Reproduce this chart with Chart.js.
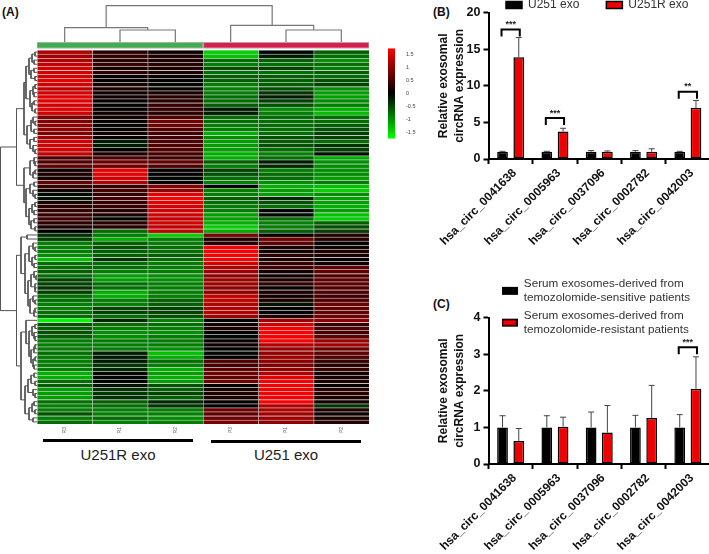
<!DOCTYPE html>
<html>
<head>
<meta charset="utf-8">
<title>circRNA expression</title>
<style>
  html, body { margin: 0; background: #fff; }
  #page { position: relative; width: 709px; height: 554px; overflow: hidden; font-family: "Liberation Sans", Arial, sans-serif; }
  canvas { position: absolute; display: block; }
  .tag { position: absolute; font-weight: bold; font-size: 12px; color: #111; }
  .grp { position: absolute; font-size: 15px; color: #222; text-align: center; width: 160px; }
  .rule { position: absolute; height: 3px; width: 150px; background: #000; }
</style>
<script src="https://cdn.jsdelivr.net/npm/chart.js@4.4.1/dist/chart.umd.min.js"></script>
</head>
<body>
<div id="page">
  <div class="tag" style="left:2px;top:5px">(A)</div>
  <div class="tag" style="left:433px;top:5px">(B)</div>
  <div class="tag" style="left:433px;top:297px">(C)</div>
  <div class="rule" style="left:43px;top:439px"></div>
  <div class="rule" style="left:211px;top:440px"></div>
  <div class="grp" style="left:38px;top:446px">U251R exo</div>
  <div class="grp" style="left:206px;top:446px">U251 exo</div>
  <canvas id="dendroTop" width="332" height="49" style="left:37px;top:0"></canvas>
  <canvas id="dendroLeft" width="37" height="374" style="left:0;top:50px"></canvas>
  <canvas id="heat" width="332" height="392" style="left:37px;top:50px"></canvas>
  <canvas id="scale" width="32" height="103" style="left:388px;top:42px"></canvas>
  <canvas id="chartB" width="280" height="288" style="left:430px;top:-39px"></canvas>
  <canvas id="chartC" width="280" height="284" style="left:430px;top:270px"></canvas>
</div>
<script>
// heatmap values, one list per sample, rows top to bottom
const sampleNames = ["R3", "R1", "R2", "P3", "P1", "P2"];
const expR3 = [1.3,1.2,1.3,1.4,1.5,1.5,1.5,1.6,1.5,1.4,1.5,1.6,1.6,1.5,1.6,1.5,1.0,1.0,1.1,1.1,1.0,1.2,1.5,1.5,1.5,1.4,.7,.7,.8,.2,.3,.25,.8,.5,.2,-.1,-.2,.3,.4,.5,.5,.6,.4,.3,0,-.5,-.6,-1.0,-1,-1,-1.1,-1.4,-.9,-.9,-.8,-.9,-.6,-.6,-.5,-.6,-.9,-.9,-1,-1,-.9,-.9,-1.7,-.7,-.8,-.7,-.8,-1,-1,-1,-.9,-1,-1,-1,-1,-1.3,-1.3,-.9,-.8,-1.2,-1.2,-1.2,-.9,-1,-1,-.7,-1,-.9];
const expR1 = [.4,.5,.4,.5,.3,.4,.1,0,.3,.3,.2,.2,0,.1,0,.2,.2,.1,-.1,.1,.2,.1,-.3,-.3,.1,.3,.7,.9,.9,1.6,1.6,1.5,1.3,.5,.6,.5,.6,.5,.5,.4,.3,-.1,.4,.4,-.9,-1.0,-1.3,-.8,-.7,-.8,-.8,-.5,-.9,-.9,-1,-1.2,-1.2,-.9,-.9,-1.3,-1.3,-1,-1,-.6,-.6,-.9,-.4,-.9,-1,-1.1,-1.1,-1,-1,-1,-.3,-.3,-.3,-.5,-.4,-.1,-.1,-.1,-.2,-.5,-.5,-.5,-.8,-.9,-1,-1,-.9,-1];
const expR2 = [.2,.3,.3,.4,.3,.3,.1,0,-.1,.1,.3,.4,.4,.5,.5,.4,.7,.9,.9,.7,.6,.6,.7,.7,.7,.6,.6,.8,.7,.1,0,-.1,0,1.0,1.1,1.6,1.7,1.6,1.5,1.5,1.5,1.4,1.5,1.4,1.4,-1.5,-1.0,-1,-.9,-.9,-.8,-.9,-1,-1,-1.0,-1.1,-1.1,-1,-1,-1,-1,-.8,-.8,-.6,-.6,-.7,-1,-.9,-1,-1.1,-1,-1,-1,-1.1,-1.4,-1.3,-.9,-1,-1.3,-1.2,-1.3,-1.2,-.7,-.8,-.6,-.8,-.4,-.5,-1,-1,-1.1,-1];
const expP3 = [-1.5,-1.4,-.9,-1,-.7,-.9,-.8,-.8,-1,-1,-1,-.9,-.9,-.8,-.3,-.3,-.9,-.9,-1,-1,-1.3,-1.1,-1.2,-1.2,-1.2,-1.3,-1.3,-.8,-1,-.6,-.7,-.9,-1,-.1,-1,-1,-.8,-.9,-1,-1,-1.2,-1.2,-1.3,-1.5,-1.3,1.0,.3,.4,1.7,1.7,1.7,1.7,1.5,1.3,1.2,1.1,1.2,1.2,1.1,1.1,1.4,1.4,1.3,1.3,1.3,1.2,-.05,.2,.3,0,-.1,.1,.15,0,-.1,0,.7,.6,.8,.9,.8,.9,0,.3,.3,.3,.05,.1,.9,.8,.9,1.0];
const expP1 = [-.1,-.3,-.8,-.9,-.6,-.9,-.8,-.8,-.8,-.7,-.5,-.3,-.6,-.7,-1.1,-1,-.9,-.9,-.9,-.9,-.9,-.7,-.8,-.7,-.9,-1,-.9,-.3,-.4,-1,-.9,-.9,-1.1,-1.3,-1.2,-1.2,-.4,-.7,-.9,-.1,-.1,-.9,-1,-1,-.8,.1,.9,.8,.3,.2,.4,.3,.5,.6,.2,.2,.3,.5,-.05,.3,.2,.3,-.2,-.05,0,.3,1.2,1.5,1.7,1.7,1.7,1.7,1.3,1.2,1.1,1.2,1.1,1,1.1,1.3,1.6,1.7,1.7,1.7,1.7,1.7,1.7,1.3,1.3,1.2,1.2,1.1];
const expP2 = [-.8,-.9,-1.1,-.9,-1,-.8,-.9,-.7,-.6,-1.1,-1.2,-1.2,-1.1,-1,-1.3,-1.4,-.9,-.9,-.8,-.7,-.6,-.6,-.9,-.5,-.6,-.2,-1.3,-1.1,-1.1,-1.1,-1.1,-1.2,-1,-1.4,-1.5,-1.1,-1.2,-1.2,-1.3,-1.2,-1.4,-1.5,-.8,-.7,-.6,.4,.4,-.05,.2,.3,.3,0,.2,.8,.8,.7,.8,.8,.7,.7,.6,.7,.9,.8,.8,.9,1.1,.5,.7,.6,.8,1.2,1.2,.9,.8,.7,.5,.4,.5,.2,.3,.3,.1,.4,.4,.3,.2,-.5,.3,.2,.3,.4];
const heatValues = [expR3, expR1, expR2, expP3, expP1, expP2];
const heatMax = 1.75;
const scaleTicks = [-1.5, -1, -0.5, 0, 0.5, 1, 1.5];

// dendrograms: [height, child, child], 0 is a leaf
const treeTop = [36.3, [14.3, 0, [12, 0, 0]], [16.7, 0, [12, 0, 0]]];
const treeLeft = [36.5,
  [20.5,
    [13,
      [11,
        [8, [5, [2, 0, 0], [3, 0, 0]], [6, [3, 0, 0], [2, 0, 0]]],
        [7, [4, [2, 0, 0], [3, 0, 0]], [5, [3, 0, 0], [2, 0, 0]]]],
      [10, [6, [4, 0, [2, 0, 0]], [3, 0, 0]], [7, [3, 0, 0], [4, 0, [2, 0, 0]]]]],
    [13,
      [7, [3, 0, [2, 0, 0]], [4, [2, 0, 0], 0]],
      [11,
        [7, [3, 0, 0], [4, 0, [2, 0, 0]]],
        [8, [5, [2, 0, 0], [3, 0, 0]], [6, [3, 0, 0], [2, 0, 0]]]]]],
  [20.5,
    [16,
      [10, 0, 0],
      [12,
        [8, [4, 0, [2, 0, 0]], [5, [2, 0, 0], [3, 0, 0]]],
        [9, [6, [3, 0, [1, 0, 0]], [2, 0, [2, 0, 0]]], [7, [4, 0, [2, 0, 0]], [3, [2, 0, 0], 0]]]]],
    [16,
      [11, 0, [8, [5, [2, 0, 0], [3, 0, [2, 0, 0]]], [6, [3, [2, 0, 0], 0], [4, [2, 0, 0], [3, 0, 0]]]]],
      [12, [9, [6, [3, 0, 0], [2, 0, 0]], [4, 0, [2, 0, 0]]], [8, [5, [3, 0, 0], [2, 0, 0]], [4, 0, 0]]]]]];

// bar panels
const circNames = ["hsa_circ_0041638", "hsa_circ_0005963", "hsa_circ_0037096", "hsa_circ_0002782", "hsa_circ_0042003"];
const sensB = [1, 1, 1, 1, 1];
const resB = [13.9, 3.75, 1, 1, 7];
const sensBHigh = [1.05, 1.05, 1.15, 1.15, 1.05];
const resBHigh = [16.6, 4.2, 1.1, 1.4, 8];
const sigBGroups = [0, 1, 4];
const sigBTop = [17.7, 5.6, 9.2];
const sigBText = ["***", "***", "**"];
const sensC = [1, 1, 1, 1, 1];
const resC = [0.63, 1.02, 0.86, 1.26, 2.06];
const sensCHigh = [1.32, 1.32, 1.42, 1.33, 1.35];
const resCHigh = [0.97, 1.28, 1.6, 2.15, 2.93];
const sigCGroups = [4];
const sigCTop = [3.19];
const sigCText = ["***"];

Chart.defaults.animation = false;
Chart.defaults.responsive = false;
Chart.defaults.font.family = '"Liberation Sans", Arial, sans-serif';
Chart.defaults.plugins.tooltip.enabled = false;

function heatColor(v) {
  const level = Math.round(255 * Math.pow(Math.min(Math.abs(v) / heatMax, 1), 1.25));
  return v > 0 ? `rgb(${level},0,0)` : `rgb(0,${level},0)`;
}

// walk a tree and return line segments with null breaks between the links
function treeSegments(tree, toPoint) {
  let next = 0;
  const out = [];
  function walk(node) {
    if (!node) return { pos: next++ + 0.5, h: 0 };
    const a = walk(node[1]);
    const b = walk(node[2]);
    out.push(toPoint(a.pos, a.h), toPoint(a.pos, node[0]), toPoint(b.pos, node[0]), toPoint(b.pos, b.h), { x: null, y: null });
    return { pos: (a.pos + b.pos) / 2, h: node[0] };
  }
  walk(tree);
  return out;
}

new Chart(document.getElementById("dendroTop"), {
  type: "scatter",
  data: {
    datasets: [
      { data: treeSegments(treeTop, (pos, h) => ({ x: pos, y: h })), showLine: true, borderColor: "#777", borderWidth: 1.2, pointRadius: 0 },
      { data: [{ x: 0.01, y: -3.3 }, { x: 2.99, y: -3.3 }], showLine: true, borderColor: "#3cb04c", borderWidth: 4.5, pointRadius: 0 },
      { data: [{ x: 3.02, y: -3.3 }, { x: 5.99, y: -3.3 }], showLine: true, borderColor: "#e0194f", borderWidth: 4.5, pointRadius: 0 },
      { data: [{ x: 0, y: -3.3 }, { x: 6, y: -3.3 }], showLine: true, borderColor: "#aaa", borderWidth: 6.5, pointRadius: 0 },
    ],
  },
  options: {
    layout: { padding: 0, autoPadding: false },
    plugins: { legend: { display: false } },
    scales: {
      x: { type: "linear", min: 0, max: 6, display: false },
      y: { min: -7, max: 42, display: false },
    },
  },
});

new Chart(document.getElementById("dendroLeft"), {
  type: "scatter",
  data: {
    datasets: [
      { data: treeSegments(treeLeft, (pos, h) => ({ x: h, y: pos })), showLine: true, borderColor: "#555", borderWidth: 1, pointRadius: 0 },
    ],
  },
  options: {
    layout: { padding: 0, autoPadding: false },
    plugins: { legend: { display: false } },
    scales: {
      x: { type: "linear", min: 0, max: 37, reverse: true, display: false },
      y: { min: 0, max: expR3.length, reverse: true, display: false },
    },
  },
});

new Chart(document.getElementById("heat"), {
  type: "bar",
  data: {
    labels: expR3.map((_, i) => i),
    datasets: heatValues.map((vals, c) => ({
      data: vals.map(() => [c, c + 1]),
      backgroundColor: vals.map(heatColor),
      borderColor: "rgba(170,170,170,0.45)",
      borderWidth: { top: 1, bottom: 0, left: 1, right: 0 },
      borderSkipped: false,
      inflateAmount: 0.45,
      barPercentage: 1,
      categoryPercentage: 1,
    })),
  },
  options: {
    indexAxis: "y",
    layout: { padding: 0, autoPadding: false },
    plugins: { legend: { display: false } },
    scales: {
      y: { stacked: true, display: false },
      x: {
        type: "linear",
        min: 0,
        max: 6,
        border: { display: false },
        grid: { display: false, drawTicks: false },
        afterBuildTicks: (s) => { s.ticks = sampleNames.map((_, i) => ({ value: i + 0.5 })); },
        afterFit: (s) => { s.height = 18; },
        ticks: {
          font: { size: 5 },
          color: "#666",
          padding: 3,
          minRotation: 90,
          maxRotation: 90,
          callback: (v) => sampleNames[Math.floor(v)],
        },
      },
    },
  },
});

// colour key, one floating bar with a green-black-red fill
new Chart(document.getElementById("scale"), {
  type: "bar",
  data: {
    labels: ["key"],
    datasets: [{
      data: [[-heatMax, heatMax]],
      barPercentage: 1,
      categoryPercentage: 1,
      inflateAmount: 0,
      backgroundColor: (ctx) => {
        const area = ctx.chart.chartArea;
        if (!area) return "#000";
        const g = ctx.chart.ctx.createLinearGradient(0, area.bottom, 0, area.top);
        g.addColorStop(0, heatColor(-heatMax));
        g.addColorStop(0.5, "#000");
        g.addColorStop(1, heatColor(heatMax));
        return g;
      },
    }],
  },
  options: {
    layout: { padding: 0, autoPadding: false },
    plugins: { legend: { display: false } },
    scales: {
      x: { display: false },
      y: {
        position: "right",
        min: -heatMax,
        max: heatMax,
        border: { display: false },
        grid: { display: false },
        afterBuildTicks: (s) => { s.ticks = scaleTicks.map((v) => ({ value: v })); },
        afterFit: (s) => { s.width = 25; },
        ticks: { font: { size: 5.5 }, color: "#444", padding: 3, callback: (v) => String(v) },
      },
    },
  },
});

// upper error bars, read from dataset.high
const errorBars = {
  id: "errorBars",
  afterDatasetsDraw(chart) {
    const { ctx, scales } = chart;
    ctx.save();
    ctx.strokeStyle = "#444";
    ctx.lineWidth = 1;
    chart.data.datasets.forEach((ds, i) => {
      chart.getDatasetMeta(i).data.forEach((bar, j) => {
        const top = scales.y.getPixelForValue(ds.high[j]);
        ctx.beginPath();
        ctx.moveTo(bar.x, bar.y);
        ctx.lineTo(bar.x, top);
        ctx.moveTo(bar.x - 3, top);
        ctx.lineTo(bar.x + 3, top);
        ctx.stroke();
      });
    });
    ctx.restore();
  },
};

// significance brackets, one for each entry of options.plugins.sig
const sigBrackets = {
  id: "sig",
  afterDatasetsDraw(chart, _args, opts) {
    const { ctx, scales } = chart;
    ctx.save();
    ctx.strokeStyle = "#000";
    ctx.fillStyle = "#222";
    ctx.lineWidth = 2;
    ctx.textAlign = "center";
    ctx.textBaseline = "middle";
    ctx.font = 'bold 9px "Liberation Sans", Arial, sans-serif';
    opts.groups.forEach((g, k) => {
      const x0 = chart.getDatasetMeta(0).data[g].x - 1;
      const x1 = chart.getDatasetMeta(1).data[g].x + 1;
      const y = scales.y.getPixelForValue(opts.top[k]);
      ctx.beginPath();
      ctx.moveTo(x0, y + 7);
      ctx.lineTo(x0, y);
      ctx.lineTo(x1, y);
      ctx.lineTo(x1, y + 7);
      ctx.stroke();
      ctx.fillText(opts.text[k], (x0 + x1) / 2, y - 5);
    });
    ctx.restore();
  },
};

// put the legend where the figure has it; the legend clips itself to its box
const placeLegend = {
  id: "placeLegend",
  afterLayout(chart, _args, opts) {
    const w = chart.legend.right - chart.legend.left;
    chart.legend.left = opts.left;
    chart.legend.right = opts.left + w + 300;
    chart.legend.top = opts.top;
    chart.legend.bottom = opts.top + 100;
  },
};

// legend swatch sitting between the two lines of a two-line label
function tallSwatch(fill) {
  const c = document.createElement("canvas");
  c.width = 16;
  c.height = 28;
  const g = c.getContext("2d");
  g.fillStyle = "#000";
  g.fillRect(0, 17, 16, 8);
  g.fillStyle = fill;
  g.fillRect(1.5, 18.5, 13, 5);
  return c;
}

function panelOptions(yMax, yStep, sig, legend, place) {
  return {
    layout: { padding: { top: place.padTop }, autoPadding: false },
    plugins: {
      legend,
      sig,
      placeLegend: place,
    },
    scales: {
      x: {
        border: { color: "#000", width: 2 },
        grid: { drawOnChartArea: false, color: "#000", tickLength: 5, tickWidth: 2 },
        afterFit: (s) => { s.height = 90; },
        ticks: { font: { size: 12, weight: "bold" }, color: "#111", padding: 2, labelOffset: 4, minRotation: 45, maxRotation: 45, autoSkip: false },
      },
      y: {
        min: 0,
        max: yMax,
        border: { color: "#000", width: 2 },
        grid: { drawOnChartArea: false, color: "#000", tickLength: 5, tickWidth: 2 },
        afterFit: (s) => { s.width = 58.5; },
        title: {
          display: true,
          text: ["Relative exosomal", "circRNA expression"],
          font: { size: 12, weight: "bold", lineHeight: 1.3 },
          color: "#111",
          padding: { top: 6, bottom: 0 },
        },
        ticks: { font: { size: 12.5, weight: "bold" }, color: "#111", stepSize: yStep, padding: 3 },
      },
    },
  };
}

function barSet(label, values, high, fill) {
  return {
    label,
    data: values,
    high,
    backgroundColor: fill,
    borderColor: "#000",
    borderWidth: 1.5,
    borderSkipped: false,
    barPercentage: 0.66,
    categoryPercentage: 0.734,
  };
}

new Chart(document.getElementById("chartB"), {
  type: "bar",
  data: {
    labels: circNames,
    datasets: [
      barSet("U251 exo", sensB, sensBHigh, "#000"),
      barSet("U251R exo", resB, resBHigh, "#f00000"),
    ],
  },
  options: panelOptions(20, 5,
    { groups: sigBGroups, top: sigBTop, text: sigBText },
    {
      position: "top",
      align: "start",
      labels: { font: { size: 12 }, color: "#333", boxWidth: 16, boxHeight: 7, padding: 27 },
    },
    { left: 49, top: 11, padTop: 2.7 }),
  plugins: [errorBars, sigBrackets, placeLegend],
});

const fillsC = ["#000", "#f00000"];
new Chart(document.getElementById("chartC"), {
  type: "bar",
  data: {
    labels: circNames,
    datasets: [
      barSet(["Serum exosomes-derived from", "temozolomide-sensitive patients"], sensC, sensCHigh, fillsC[0]),
      barSet(["Serum exosomes-derived from", "temozolomide-resistant patients"], resC, resCHigh, fillsC[1]),
    ],
  },
  options: panelOptions(4, 1,
    { groups: sigCGroups, top: sigCTop, text: sigCText },
    {
      position: "chartArea",
      align: "start",
      labels: {
        font: { size: 11.7, lineHeight: 1.23 },
        color: "#333",
        usePointStyle: true,
        pointStyleWidth: 17,
        boxHeight: 7,
        padding: 3,
        generateLabels: (chart) => Chart.defaults.plugins.legend.labels.generateLabels(chart)
          .map((item, i) => ({ ...item, pointStyle: tallSwatch(fillsC[i]) })),
      },
    },
    { left: 68, top: 5, padTop: 47.7 }),
  plugins: [errorBars, sigBrackets, placeLegend],
});
</script>
</body>
</html>
